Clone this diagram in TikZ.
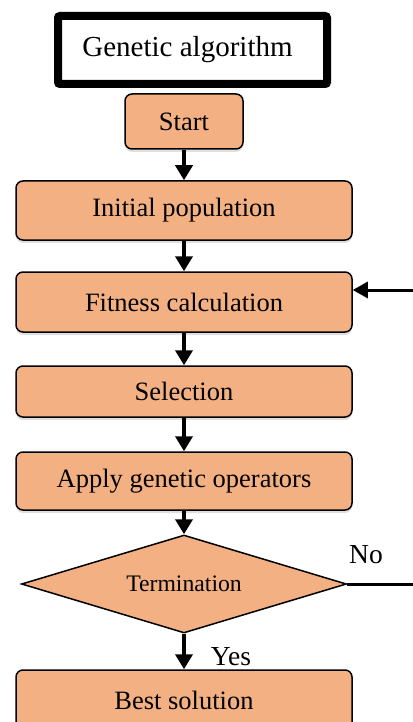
\documentclass[tikz,border=0pt]{standalone}
\usepackage{fontspec}
\setmainfont{Liberation Serif}
\usetikzlibrary{shapes.geometric,arrows.meta,shadows}
\definecolor{boxfill}{HTML}{F3B183}
\begin{document}
\begin{tikzpicture}[x=1pt,y=-1pt,
  procbox/.style={draw=black, line width=1.5pt, fill=boxfill, rounded corners=7pt,
    minimum width=336pt, inner sep=0pt, font=\fontsize{26.5}{30}\selectfont,
    drop shadow={shadow xshift=0pt, shadow yshift=-3pt, opacity=0.25}},
  decbox/.style={draw=black, line width=1.5pt, fill=boxfill, diamond, aspect=3.3,
    minimum width=325pt, minimum height=98pt, inner sep=0pt, font=\fontsize{23.7}{27}\selectfont},
  flow/.style={line width=4pt, -{Triangle[width=17pt,length=15pt]}},
  lbl/.style={font=\fontsize{27.5}{30}\selectfont, inner sep=0pt}]
\useasboundingbox (0,0) rectangle (412,722);
\node[draw=black, line width=8pt, rounded corners=2pt, minimum width=269pt, minimum height=68pt, inner sep=0pt,
  font=\fontsize{29}{32}\selectfont] (title) at (192.5,50) {Genetic algorithm\rule{10pt}{0pt}};
\node[procbox, minimum width=118pt, minimum height=55pt] (start) at (184,121.5) {Start};
\node[procbox, minimum height=59pt] (init) at (184,210.5) {Initial population};
\node[procbox, minimum height=60pt] (fit) at (184,302) {Fitness calculation};
\node[procbox, minimum height=51pt] (sel) at (184,391.5) {Selection};
\node[procbox, minimum height=58pt] (app) at (184,481) {Apply genetic operators};
\node[decbox] (term) at (184,584) {Termination};
\node[procbox, minimum height=60pt] (best) at (184,700) {Best solution};
\node[lbl] (no) at (366,555) {No};
\node[lbl] (yes) at (231,657) {Yes};
\coordinate (c1) at (418,584);
\coordinate (c2) at (418,290);
\draw[flow] (start) -- (init);
\draw[flow] (init) -- (fit);
\draw[flow] (fit) -- (sel);
\draw[flow] (sel) -- (app);
\draw[flow] (app) -- (term);
\draw[flow] (term) -- (best);
\draw[line width=3pt, -{Triangle[width=16pt,length=15pt]}] (term.east) -- (c1) -- (c2) -- (fit.east |- c2);
\end{tikzpicture}
\end{document}
